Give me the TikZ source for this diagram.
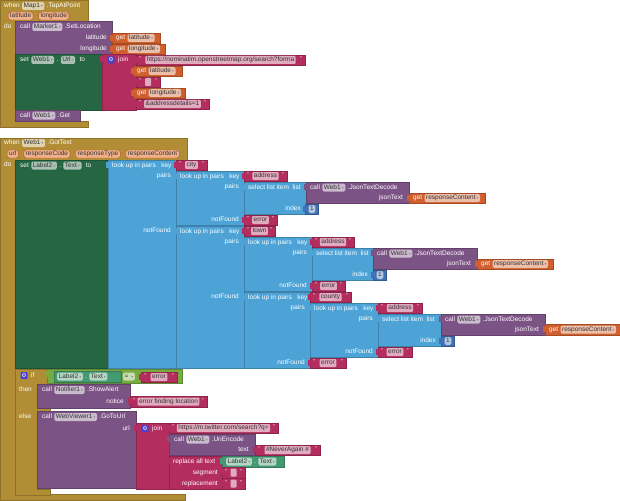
\documentclass[tikz,border=0pt]{standalone}
\usepackage{fontspec}
\setmainfont{Liberation Sans}
\newfontfamily\symfont{DejaVu Sans}
\usetikzlibrary{positioning}

\definecolor{ctlgold}{HTML}{B18E35}
\definecolor{compurple}{HTML}{7C5385}
\definecolor{setgreen}{HTML}{266643}
\definecolor{varorange}{HTML}{D05F2D}
\definecolor{strred}{HTML}{B32D5E}
\definecolor{listblue}{HTML}{4DA3D6}
\definecolor{numblue}{HTML}{3F71B5}
\definecolor{cmpgreen}{HTML}{77AB41}
\definecolor{getgreen}{HTML}{439970}
\definecolor{parampill}{HTML}{F0B08C}
\definecolor{mutblue}{HTML}{4A3FD0}

\newcommand{\ddarr}{\,{\symfont\fontsize{4}{4}\selectfont\color{black!45}▾}}

% text block: name, x1, y1, x2, y2, text
\newcommand{\strblk}[6]{%
  \filldraw[fill=strred, draw=strred!80!black, blk] (#2,#3) rectangle (#4,#5);
  \fill[strred] (#2-2,#3+2) rectangle (#2+0.5,#3+8);
  \node[qmark, anchor=west] at (#2+3,{(#3+#5)/2-1}) {"};
  \node[strpill] (#1) at ({(#2+#4)/2},{(#3+#5)/2}) {#6};
  \node[qmark, anchor=east] at (#4-3,{(#3+#5)/2-1}) {"};
}
% variable getter: name, x1, y1, x2, y2, variable
\newcommand{\getblk}[6]{%
  \filldraw[fill=varorange, draw=varorange!80!black, blk] (#2,#3) rectangle (#4,#5);
  \fill[varorange] (#2-2,#3+2) rectangle (#2+0.5,#3+8);
  \node[lbl, anchor=west] (#1) at (#2+4,{(#3+#5)/2}) {get};
  \node[dd, right=2pt of #1] (#1v) {#6\ddarr};
}
% look up in pairs: name, x1, y1, x2, y2, pairs row, notFound row
\newcommand{\lookupblk}[7]{%
  \filldraw[fill=listblue, draw=listblue!80!black, blk] (#2,#3) rectangle (#4,#5);
  \fill[listblue] (#2-2,#3+2) rectangle (#2+0.5,#3+8);
  \node[lbl, anchor=west] (#1) at (#2+4,#3+5.5) {look up in pairs\ \ \ key};
  \node[lbl, anchor=east] (#1p) at (#4-5,#6) {pairs};
  \node[lbl, anchor=east] (#1n) at (#4-5,#7) {notFound};
}
% select list item: name, x1, y1, x2, y2
\newcommand{\selectblk}[5]{%
  \filldraw[fill=listblue, draw=listblue!80!black, blk] (#2,#3) rectangle (#4,#5);
  \fill[listblue] (#2-2,#3+2) rectangle (#2+0.5,#3+8);
  \node[lbl, anchor=west] (#1) at (#2+4,#3+5.5) {select list item\ \ list};
  \node[lbl, anchor=east] (#1i) at (#4-5,#5-5.5) {index};
}
% Web1.JsonTextDecode: name, x1, y1, x2, y2
\newcommand{\jsonblk}[5]{%
  \filldraw[fill=compurple, draw=compurple!80!black, blk] (#2,#3) rectangle (#4,#5);
  \fill[compurple] (#2-2,#3+2) rectangle (#2+0.5,#3+8);
  \node[lbl, anchor=west] (#1) at (#2+4,#3+5.5) {call};
  \node[dd, right=2pt of #1] (#1c) {Web1\ddarr};
  \node[lbl, right=2pt of #1c] (#1m) {.JsonTextDecode};
  \node[lbl, anchor=east] (#1j) at (#4-6,#5-5.5) {jsonText};
}
% number: name, x1, y1, x2, y2
\newcommand{\numblk}[5]{%
  \filldraw[fill=numblue, draw=numblue!80!black, blk] (#2,#3) rectangle (#4,#5);
  \fill[numblue] (#2-2,#3+2) rectangle (#2+0.5,#3+8);
  \node[dd] (#1) at ({(#2+#4)/2+0.5},{(#3+#5)/2}) {1};
}

\begin{document}
\begin{tikzpicture}[x=1pt, y=-1pt,
  blk/.style={line width=.4pt},
  lbl/.style={font=\fontsize{6.5}{7}\selectfont, text=white, inner sep=0pt,
              text height=4.7pt, text depth=1.3pt},
  dd/.style={lbl, text=black!80, fill=white, fill opacity=.6, text opacity=1,
             rounded corners=1.5pt, inner xsep=1.5pt, inner ysep=1pt},
  prm/.style={lbl, text=black!80, fill=parampill, draw=varorange!90!black,
              line width=.4pt, rounded corners=2.5pt, inner xsep=2pt, inner ysep=1pt},
  strpill/.style={dd, minimum width=6pt, rounded corners=1pt},
  qmark/.style={lbl, font=\fontsize{5.5}{5.5}\selectfont, text height=3pt, text depth=0pt},
  mut/.style={fill=mutblue, rounded corners=1pt, minimum size=7pt, inner sep=0pt,
              text=white, font=\symfont\fontsize{5.5}{5.5}\selectfont}
]
\useasboundingbox (0,0) rectangle (620,500);

% when Map1.TapAtPoint
\filldraw[fill=ctlgold, draw=ctlgold!80!black, blk] (0,0) -- (88,0) -- (88,21) -- (15,21)
  -- (15,121) -- (88,121) -- (88,127) -- (0,127) -- cycle;
\node[lbl, anchor=west] (tapWhen) at (4,6) {when};
\node[dd, right=2pt of tapWhen] (tapMap) {Map1\ddarr};
\node[lbl, right=2pt of tapMap] (tapEvt) {.TapAtPoint};
\node[prm, anchor=west] (tapLat) at (8,16) {latitude};
\node[prm, right=5pt of tapLat] (tapLon) {longitude};
\node[lbl, anchor=west] (tapDo) at (4,27) {do};

\filldraw[fill=compurple, draw=compurple!80!black, blk] (15,21) rectangle (112,54);
\node[lbl, anchor=west] (locCall) at (20,27) {call};
\node[dd, right=2pt of locCall] (locMarker) {Marker1\ddarr};
\node[lbl, right=2pt of locMarker] (locMeth) {.SetLocation};
\node[lbl, anchor=east] (locLat) at (107,38) {latitude};
\node[lbl, anchor=east] (locLon) at (107,49) {longitude};
\getblk{getLat}{112}{33}{160}{43}{latitude}
\getblk{getLon}{112}{44}{165}{54}{longitude}

\filldraw[fill=setgreen, draw=setgreen!80!black, blk] (15,54) rectangle (102,110);
\node[lbl, anchor=west] (urlSet) at (20,60) {set};
\node[dd, right=2pt of urlSet] (urlWeb) {Web1\ddarr};
\node[lbl, right=2pt of urlWeb] (urlDot) {.};
\node[dd, right=2pt of urlDot] (urlProp) {Url\ddarr};
\node[lbl, right=4pt of urlProp] (urlTo) {to};

\filldraw[fill=strred, draw=strred!80!black, blk] (102,54) rectangle (136,110);
\fill[strred] (100,56) rectangle (102.5,62);
\node[mut] (urlGear) at (111,60) {⚙};
\node[lbl, anchor=west] (urlJoin) at (118,60) {join};
\strblk{urlBase}{136}{55}{305}{65}{https://nominatim.openstreetmap.org/search?forma}
\getblk{urlLat}{133}{66}{182}{76}{latitude}
\strblk{urlSep}{136}{77}{160}{87}{}
\getblk{urlLon}{133}{88}{185}{98}{longitude}
\strblk{urlTail}{136}{99}{209}{109}{\&addressdetails=1}

\filldraw[fill=compurple, draw=compurple!80!black, blk] (15,110) rectangle (80,121);
\node[lbl, anchor=west] (getCall) at (20,115.5) {call};
\node[dd, right=2pt of getCall] (getWeb) {Web1\ddarr};
\node[lbl, right=2pt of getWeb] (getMeth) {.Get};

% when Web1.GotText
\filldraw[fill=ctlgold, draw=ctlgold!80!black, blk] (0,138) -- (187,138) -- (187,160) -- (15,160)
  -- (15,494) -- (185,494) -- (185,500) -- (0,500) -- cycle;
\node[lbl, anchor=west] (gtWhen) at (4,143) {when};
\node[dd, right=2pt of gtWhen] (gtWeb) {Web1\ddarr};
\node[lbl, right=2pt of gtWeb] (gtEvt) {.GotText};
\node[prm, anchor=west] (gtUrl) at (7,154) {url};
\node[prm, right=5pt of gtUrl] (gtCode) {responseCode};
\node[prm, right=5pt of gtCode] (gtType) {responseType};
\node[prm, right=5pt of gtType] (gtContent) {responseContent};
\node[lbl, anchor=west] (gtDo) at (4,165) {do};

\filldraw[fill=setgreen, draw=setgreen!80!black, blk] (15,160) rectangle (108,368);
\node[lbl, anchor=west] (lblSet) at (20,165.5) {set};
\node[dd, right=2pt of lblSet] (lblComp) {Label2\ddarr};
\node[lbl, right=2pt of lblComp] (lblDot) {.};
\node[dd, right=2pt of lblDot] (lblProp) {Text\ddarr};
\node[lbl, right=4pt of lblProp] (lblTo) {to};

\lookupblk{city}{108}{160}{176}{368}{176}{231}
\strblk{cityKey}{176}{160}{207}{170}{city}
\lookupblk{cityAddr}{176}{171}{244}{225}{187}{220}
\strblk{cityAddrKey}{244}{171}{287}{181}{address}
\selectblk{citySel}{244}{182}{306}{214}
\jsonblk{cityJson}{306}{182}{409}{203}
\getblk{cityResp}{409}{193}{485}{203}{responseContent}
\numblk{cityIdx}{305}{204}{318}{214}
\strblk{cityErr}{244}{215}{277}{225}{error}

\lookupblk{town}{176}{226}{244}{368}{242}{297}
\strblk{townKey}{244}{226}{275}{236}{town}
\lookupblk{townAddr}{244}{237}{312}{291}{253}{286}
\strblk{townAddrKey}{312}{237}{354}{247}{address}
\selectblk{townSel}{312}{248}{373}{280}
\jsonblk{townJson}{373}{248}{477}{269}
\getblk{townResp}{477}{259}{553}{269}{responseContent}
\numblk{townIdx}{373}{270}{386}{280}
\strblk{townErr}{312}{281}{345}{291}{error}

\lookupblk{county}{244}{292}{310}{368}{308}{363}
\strblk{countyKey}{310}{292}{351}{302}{county}
\lookupblk{countyAddr}{310}{303}{378}{357}{319}{352}
\strblk{countyAddrKey}{378}{303}{422}{313}{address}
\selectblk{countySel}{378}{314}{441}{346}
\jsonblk{countyJson}{441}{314}{545}{335}
\getblk{countyResp}{545}{324}{620}{335}{responseContent}
\numblk{countyIdx}{441}{336}{454}{346}
\strblk{countyErr}{378}{347}{412}{357}{error}
\strblk{lastErr}{310}{358}{346}{368}{error}

% if / then / else
\filldraw[fill=ctlgold, draw=ctlgold!80!black, blk] (15,369) -- (50,369) -- (50,384) -- (37,384)
  -- (37,408) -- (50,408) -- (50,411) -- (37,411) -- (37,489) -- (50,489) -- (50,495)
  -- (15,495) -- cycle;
\node[mut] (ifGear) at (24,375.5) {⚙};
\node[lbl, anchor=west] (ifIf) at (31,376) {if};
\node[lbl, anchor=west] (ifThen) at (19,390) {then};
\node[lbl, anchor=west] (ifElse) at (19,417) {else};

\filldraw[fill=cmpgreen, draw=cmpgreen!80!black, blk] (47,369) rectangle (182,383);
\fill[cmpgreen] (45,371) rectangle (47.5,377);
\filldraw[fill=getgreen, draw=getgreen!80!black, blk] (54,371) rectangle (121,382);
\node[dd, anchor=west] (cmpComp) at (57,376.5) {Label2\ddarr};
\node[lbl, right=2pt of cmpComp] (cmpDot) {.};
\node[dd, right=2pt of cmpDot] (cmpProp) {Text\ddarr};
\node[dd, anchor=west] (cmpOp) at (123,376.5) {= \ddarr};
\strblk{cmpErr}{141}{372}{177}{382}{error}

\filldraw[fill=compurple, draw=compurple!80!black, blk] (37,384) rectangle (130,408);
\node[lbl, anchor=west] (alertCall) at (42,390) {call};
\node[dd, right=2pt of alertCall] (alertComp) {Notifier1\ddarr};
\node[lbl, right=2pt of alertComp] (alertMeth) {.ShowAlert};
\node[lbl, anchor=east] (alertNotice) at (124,402) {notice};
\strblk{alertMsg}{130}{396}{207}{407}{error finding location}

\filldraw[fill=compurple, draw=compurple!80!black, blk] (37,411) rectangle (136,488);
\node[lbl, anchor=west] (goCall) at (42,417) {call};
\node[dd, right=2pt of goCall] (goComp) {WebViewer1\ddarr};
\node[lbl, right=2pt of goComp] (goMeth) {.GoToUrl};
\node[lbl, anchor=east] (goUrl) at (130,428.5) {url};

\filldraw[fill=strred, draw=strred!80!black, blk] (136,423) rectangle (169,489);
\fill[strred] (134,425) rectangle (136.5,431);
\node[mut] (twGear) at (145,428.5) {⚙};
\node[lbl, anchor=west] (twJoin) at (152,428.5) {join};
\strblk{twBase}{169}{423}{278}{433}{https://m.twitter.com/search?q=}

\filldraw[fill=compurple, draw=compurple!80!black, blk] (169,434) rectangle (255,455);
\fill[compurple] (167,436) rectangle (169.5,442);
\node[lbl, anchor=west] (encCall) at (174,439.5) {call};
\node[dd, right=2pt of encCall] (encComp) {Web1\ddarr};
\node[lbl, right=2pt of encComp] (encMeth) {.UriEncode};
\node[lbl, anchor=east] (encText) at (249,450) {text};
\strblk{encTag}{255}{445}{320}{455}{\#NeverAgain \#}

\filldraw[fill=strred, draw=strred!80!black, blk] (169,456) rectangle (222,489);
\fill[strred] (167,458) rectangle (169.5,464);
\node[lbl, anchor=west] (repAll) at (173,461.5) {replace all text};
\node[lbl, anchor=east] (repSeg) at (218,472.5) {segment};
\node[lbl, anchor=east] (repRep) at (218,483.5) {replacement};
\filldraw[fill=getgreen, draw=getgreen!80!black, blk] (222,456) rectangle (284,467);
\fill[getgreen] (220,458) rectangle (222.5,464);
\node[dd, anchor=west] (repComp) at (226,461.5) {Label2\ddarr};
\node[lbl, right=2pt of repComp] (repDot) {.};
\node[dd, right=2pt of repDot] (repProp) {Text\ddarr};
\strblk{repSegStr}{222}{467}{245}{478}{}
\strblk{repRepStr}{222}{478}{245}{489}{}

\end{tikzpicture}
\end{document}
